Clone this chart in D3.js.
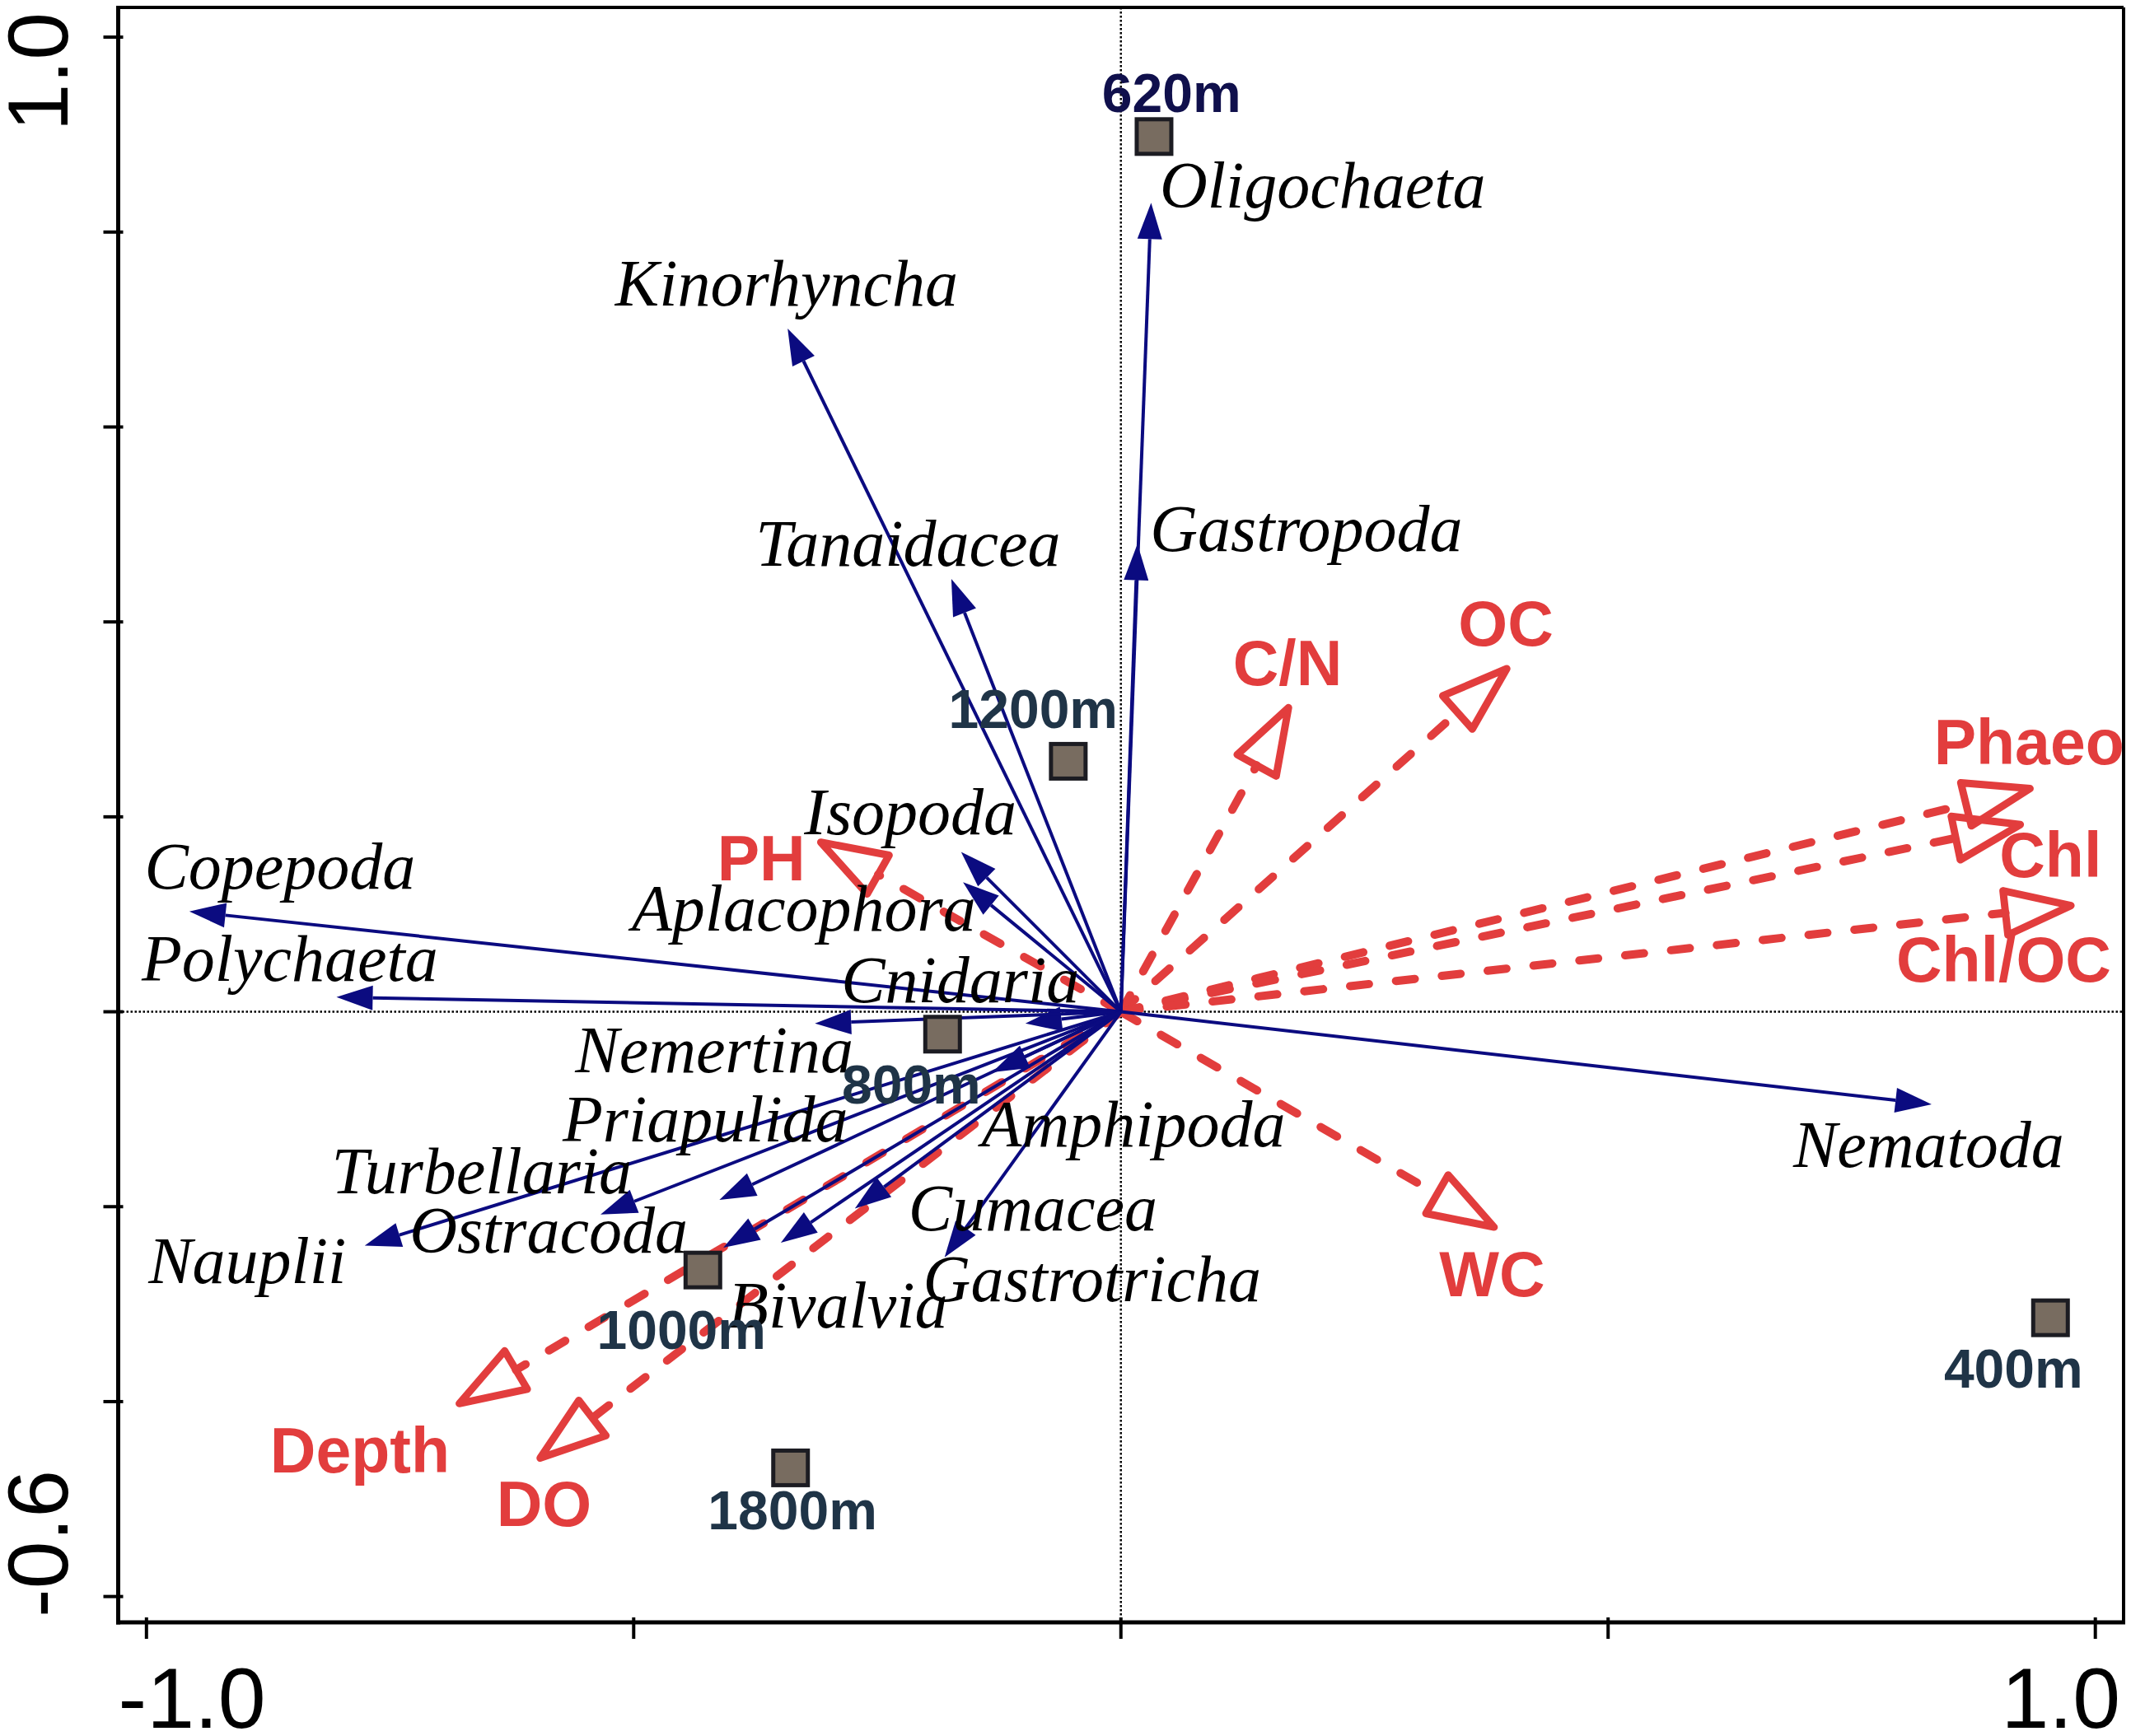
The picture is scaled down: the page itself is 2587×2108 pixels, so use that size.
<!DOCTYPE html>
<html>
<head>
<meta charset="utf-8">
<script src="https://cdn.jsdelivr.net/npm/d3@7"></script>
<style>
  body { margin: 0; background: #fff; }
</style>
</head>
<body>
<div id="chart"></div>
<script>
// species scores (arrow tips) and where their labels sit, both in axis units
const species = ["Oligochaeta", "Kinorhyncha", "Gastropoda", "Tanaidacea", "Isopoda", "Aplacophora",
  "Copepoda", "Polychaeta", "Cnidaria", "Nemertina", "Priapulida", "Turbellaria", "Nauplii",
  "Ostracoda", "Bivalvia", "Cumacea", "Gastrotricha", "Amphipoda", "Nematoda"];
const speciesX = [0.031, -0.342, 0.017, -0.174, -0.164, -0.162, -0.956, -0.805, -0.098, -0.314,
  -0.412, -0.534, -0.776, -0.408, -0.349, -0.273, -0.181, -0.132, 0.832];
const speciesY = [0.830, 0.701, 0.480, 0.444, 0.164, 0.133, 0.103, 0.015, -0.012, -0.012,
  -0.193, -0.208, -0.240, -0.242, -0.237, -0.202, -0.252, -0.062, -0.095];
const speciesLabelX = [0.040, -0.519, 0.030, -0.375, -0.325, -0.502, -1.002, -1.005, -0.287, -0.560,
  -0.573, -0.810, -0.998, -0.730, -0.403, -0.218, -0.203, -0.143, 0.690];
const speciesLabelY = [0.825, 0.725, 0.473, 0.458, 0.182, 0.083, 0.126, 0.032, 0.010, -0.062,
  -0.133, -0.186, -0.278, -0.247, -0.324, -0.224, -0.297, -0.138, -0.159];

// environmental variables
const envVars = ["OC", "C/N", "Phaeo", "Chl", "Chl/OC", "PH", "WC", "Depth", "DO"];
const envX = [0.396, 0.172, 0.933, 0.923, 0.975, -0.308, 0.383, -0.679, -0.596];
const envY = [0.352, 0.312, 0.229, 0.192, 0.109, 0.174, -0.221, -0.402, -0.458];
const envLabelX = [0.395, 0.171, 0.932, 0.954, 0.906, -0.369, 0.381, -0.781, -0.592];
const envLabelY = [0.376, 0.335, 0.254, 0.138, 0.031, 0.135, -0.292, -0.473, -0.528];

// sampling sites
const sites = ["620m", "1200m", "800m", "1000m", "1800m", "400m"];
const siteX = [0.034, -0.054, -0.183, -0.429, -0.339, 0.954];
const siteY = [0.898, 0.257, -0.023, -0.265, -0.468, -0.314];
const siteLabelX = [0.052, -0.090, -0.215, -0.451, -0.337, 0.916];
const siteLabelY = [0.923, 0.291, -0.094, -0.346, -0.531, -0.386];

const xTicks = [-1.0, -0.5, 0, 0.5, 1.0];
const yTicks = [-0.6, -0.4, -0.2, 0, 0.2, 0.4, 0.6, 0.8, 1.0];
const xTickLabels = ["-1.0", "", "", "", "1.0"];
const yTickLabels = ["-0.6", "", "", "", "", "", "", "", "1.0"];

const W = 2587, H = 2108;
const frame = {left: 143.5, right: 2578, top: 9, bottom: 1970};

const navy = "#0b0b80";
const red = "#e23d3d";

const svg = d3.select("#chart").append("svg")
  .attr("width", W)
  .attr("height", H);

const x = d3.scaleLinear().domain([-1.029, 1.029]).range([frame.left, frame.right]);
const y = d3.scaleLinear().domain([-0.6265, 1.0305]).range([frame.bottom, frame.top]);

// dotted zero lines
svg.append("line")
  .attr("x1", frame.left).attr("x2", frame.right)
  .attr("y1", y(0)).attr("y2", y(0))
  .attr("stroke", "#000").attr("stroke-width", 2.5).attr("stroke-dasharray", "2.5,2.5");
svg.append("line")
  .attr("x1", x(0)).attr("x2", x(0))
  .attr("y1", frame.top).attr("y2", frame.bottom)
  .attr("stroke", "#000").attr("stroke-width", 2.5).attr("stroke-dasharray", "2.5,2.5");

// helper: base point and triangle for an arrow from origin to (px, py)
function arrowGeom(px, py, len, half) {
  const x0 = x(0), y0 = y(0);
  const dx = px - x0, dy = py - y0;
  const L = Math.hypot(dx, dy);
  const ux = dx / L, uy = dy / L;
  const bx = px - ux * len, by = py - uy * len;
  const nx = -uy, ny = ux;
  return {
    bx, by,
    tri: [[px, py], [bx + nx * half, by + ny * half], [bx - nx * half, by - ny * half]]
  };
}

// environmental arrows: dashed red, open heads
const envG = svg.append("g");
envVars.forEach((name, i) => {
  const px = x(envX[i]), py = y(envY[i]);
  const g = arrowGeom(px, py, 80, 27);
  envG.append("line")
    .attr("x1", x(0)).attr("y1", y(0))
    .attr("x2", g.bx).attr("y2", g.by)
    .attr("stroke", red).attr("stroke-width", 10)
    .attr("stroke-linecap", "round")
    .attr("stroke-dasharray", "23,33");
  envG.append("polygon")
    .attr("points", g.tri.map(p => p.join(",")).join(" "))
    .attr("fill", "none")
    .attr("stroke", red).attr("stroke-width", 9)
    .attr("stroke-linejoin", "round");
});

// species arrows: solid navy, filled heads
const spG = svg.append("g");
species.forEach((name, i) => {
  const px = x(speciesX[i]), py = y(speciesY[i]);
  const g = arrowGeom(px, py, 44, 15);
  spG.append("line")
    .attr("x1", x(0)).attr("y1", y(0))
    .attr("x2", g.bx).attr("y2", g.by)
    .attr("stroke", navy).attr("stroke-width", 4);
  spG.append("polygon")
    .attr("points", g.tri.map(p => p.join(",")).join(" "))
    .attr("fill", navy);
});

// site squares
const sq = 42;
svg.append("g").selectAll("rect")
  .data(sites)
  .join("rect")
  .attr("x", (d, i) => x(siteX[i]) - sq / 2)
  .attr("y", (d, i) => y(siteY[i]) - sq / 2)
  .attr("width", sq).attr("height", sq)
  .attr("fill", "#786c60")
  .attr("stroke", "#1c1c22").attr("stroke-width", 5);

// species labels
svg.append("g").selectAll("text")
  .data(species)
  .join("text")
  .attr("x", (d, i) => x(speciesLabelX[i]))
  .attr("y", (d, i) => y(speciesLabelY[i]))
  .attr("font-family", "'Liberation Serif', 'Times New Roman', serif")
  .attr("font-style", "italic")
  .attr("font-size", 80)
  .attr("fill", "#000")
  .text(d => d);

// environmental labels
svg.append("g").selectAll("text")
  .data(envVars)
  .join("text")
  .attr("x", (d, i) => x(envLabelX[i]))
  .attr("y", (d, i) => y(envLabelY[i]))
  .attr("text-anchor", "middle")
  .attr("font-family", "'Liberation Sans', Arial, sans-serif")
  .attr("font-weight", "bold")
  .attr("font-size", 77)
  .attr("fill", red)
  .text(d => d);

// site labels
svg.append("g").selectAll("text")
  .data(sites)
  .join("text")
  .attr("x", (d, i) => x(siteLabelX[i]))
  .attr("y", (d, i) => y(siteLabelY[i]))
  .attr("text-anchor", "middle")
  .attr("font-family", "'Liberation Sans', Arial, sans-serif")
  .attr("font-weight", "bold")
  .attr("font-size", 66)
  .attr("fill", d => d === "620m" ? "#10104c" : "#1f3447")
  .text(d => d);

// frame
svg.append("line")
  .attr("x1", frame.left).attr("x2", frame.right)
  .attr("y1", frame.top).attr("y2", frame.top)
  .attr("stroke", "#000").attr("stroke-width", 4);
svg.append("line")
  .attr("x1", frame.right).attr("x2", frame.right)
  .attr("y1", frame.top).attr("y2", frame.bottom)
  .attr("stroke", "#000").attr("stroke-width", 4);
svg.append("line")
  .attr("x1", frame.left).attr("x2", frame.left)
  .attr("y1", frame.top - 2).attr("y2", frame.bottom + 2.5)
  .attr("stroke", "#000").attr("stroke-width", 5);
svg.append("line")
  .attr("x1", frame.left - 2.5).attr("x2", frame.right + 2)
  .attr("y1", frame.bottom).attr("y2", frame.bottom)
  .attr("stroke", "#000").attr("stroke-width", 5);

// ticks
svg.append("g").selectAll("line")
  .data(xTicks)
  .join("line")
  .attr("x1", d => x(d)).attr("x2", d => x(d))
  .attr("y1", frame.bottom - 6).attr("y2", frame.bottom + 20)
  .attr("stroke", "#000").attr("stroke-width", 4);
svg.append("g").selectAll("line")
  .data(yTicks)
  .join("line")
  .attr("y1", d => y(d)).attr("y2", d => y(d))
  .attr("x1", frame.left - 18).attr("x2", frame.left + 6)
  .attr("stroke", "#000").attr("stroke-width", 4);

// tick labels: end values only, kept inside the frame extent
const tickFont = "'Liberation Sans', Arial, sans-serif";
svg.append("g").selectAll("text")
  .data(xTicks.filter((d, i) => xTickLabels[i] !== ""))
  .join("text")
  .attr("x", d => d < 0 ? frame.left : frame.right - 4)
  .attr("y", 2098)
  .attr("text-anchor", d => d < 0 ? "start" : "end")
  .attr("font-family", tickFont)
  .attr("font-size", 104)
  .text(d => xTickLabels[xTicks.indexOf(d)]);
svg.append("g").selectAll("text")
  .data(yTicks.filter((d, i) => yTickLabels[i] !== ""))
  .join("text")
  .attr("transform", d => `translate(82, ${d < 0 ? frame.bottom - 6 : frame.top + 6}) rotate(-90)`)
  .attr("text-anchor", d => d < 0 ? "start" : "end")
  .attr("font-family", tickFont)
  .attr("font-size", 104)
  .text(d => yTickLabels[yTicks.indexOf(d)]);
</script>
</body>
</html>
